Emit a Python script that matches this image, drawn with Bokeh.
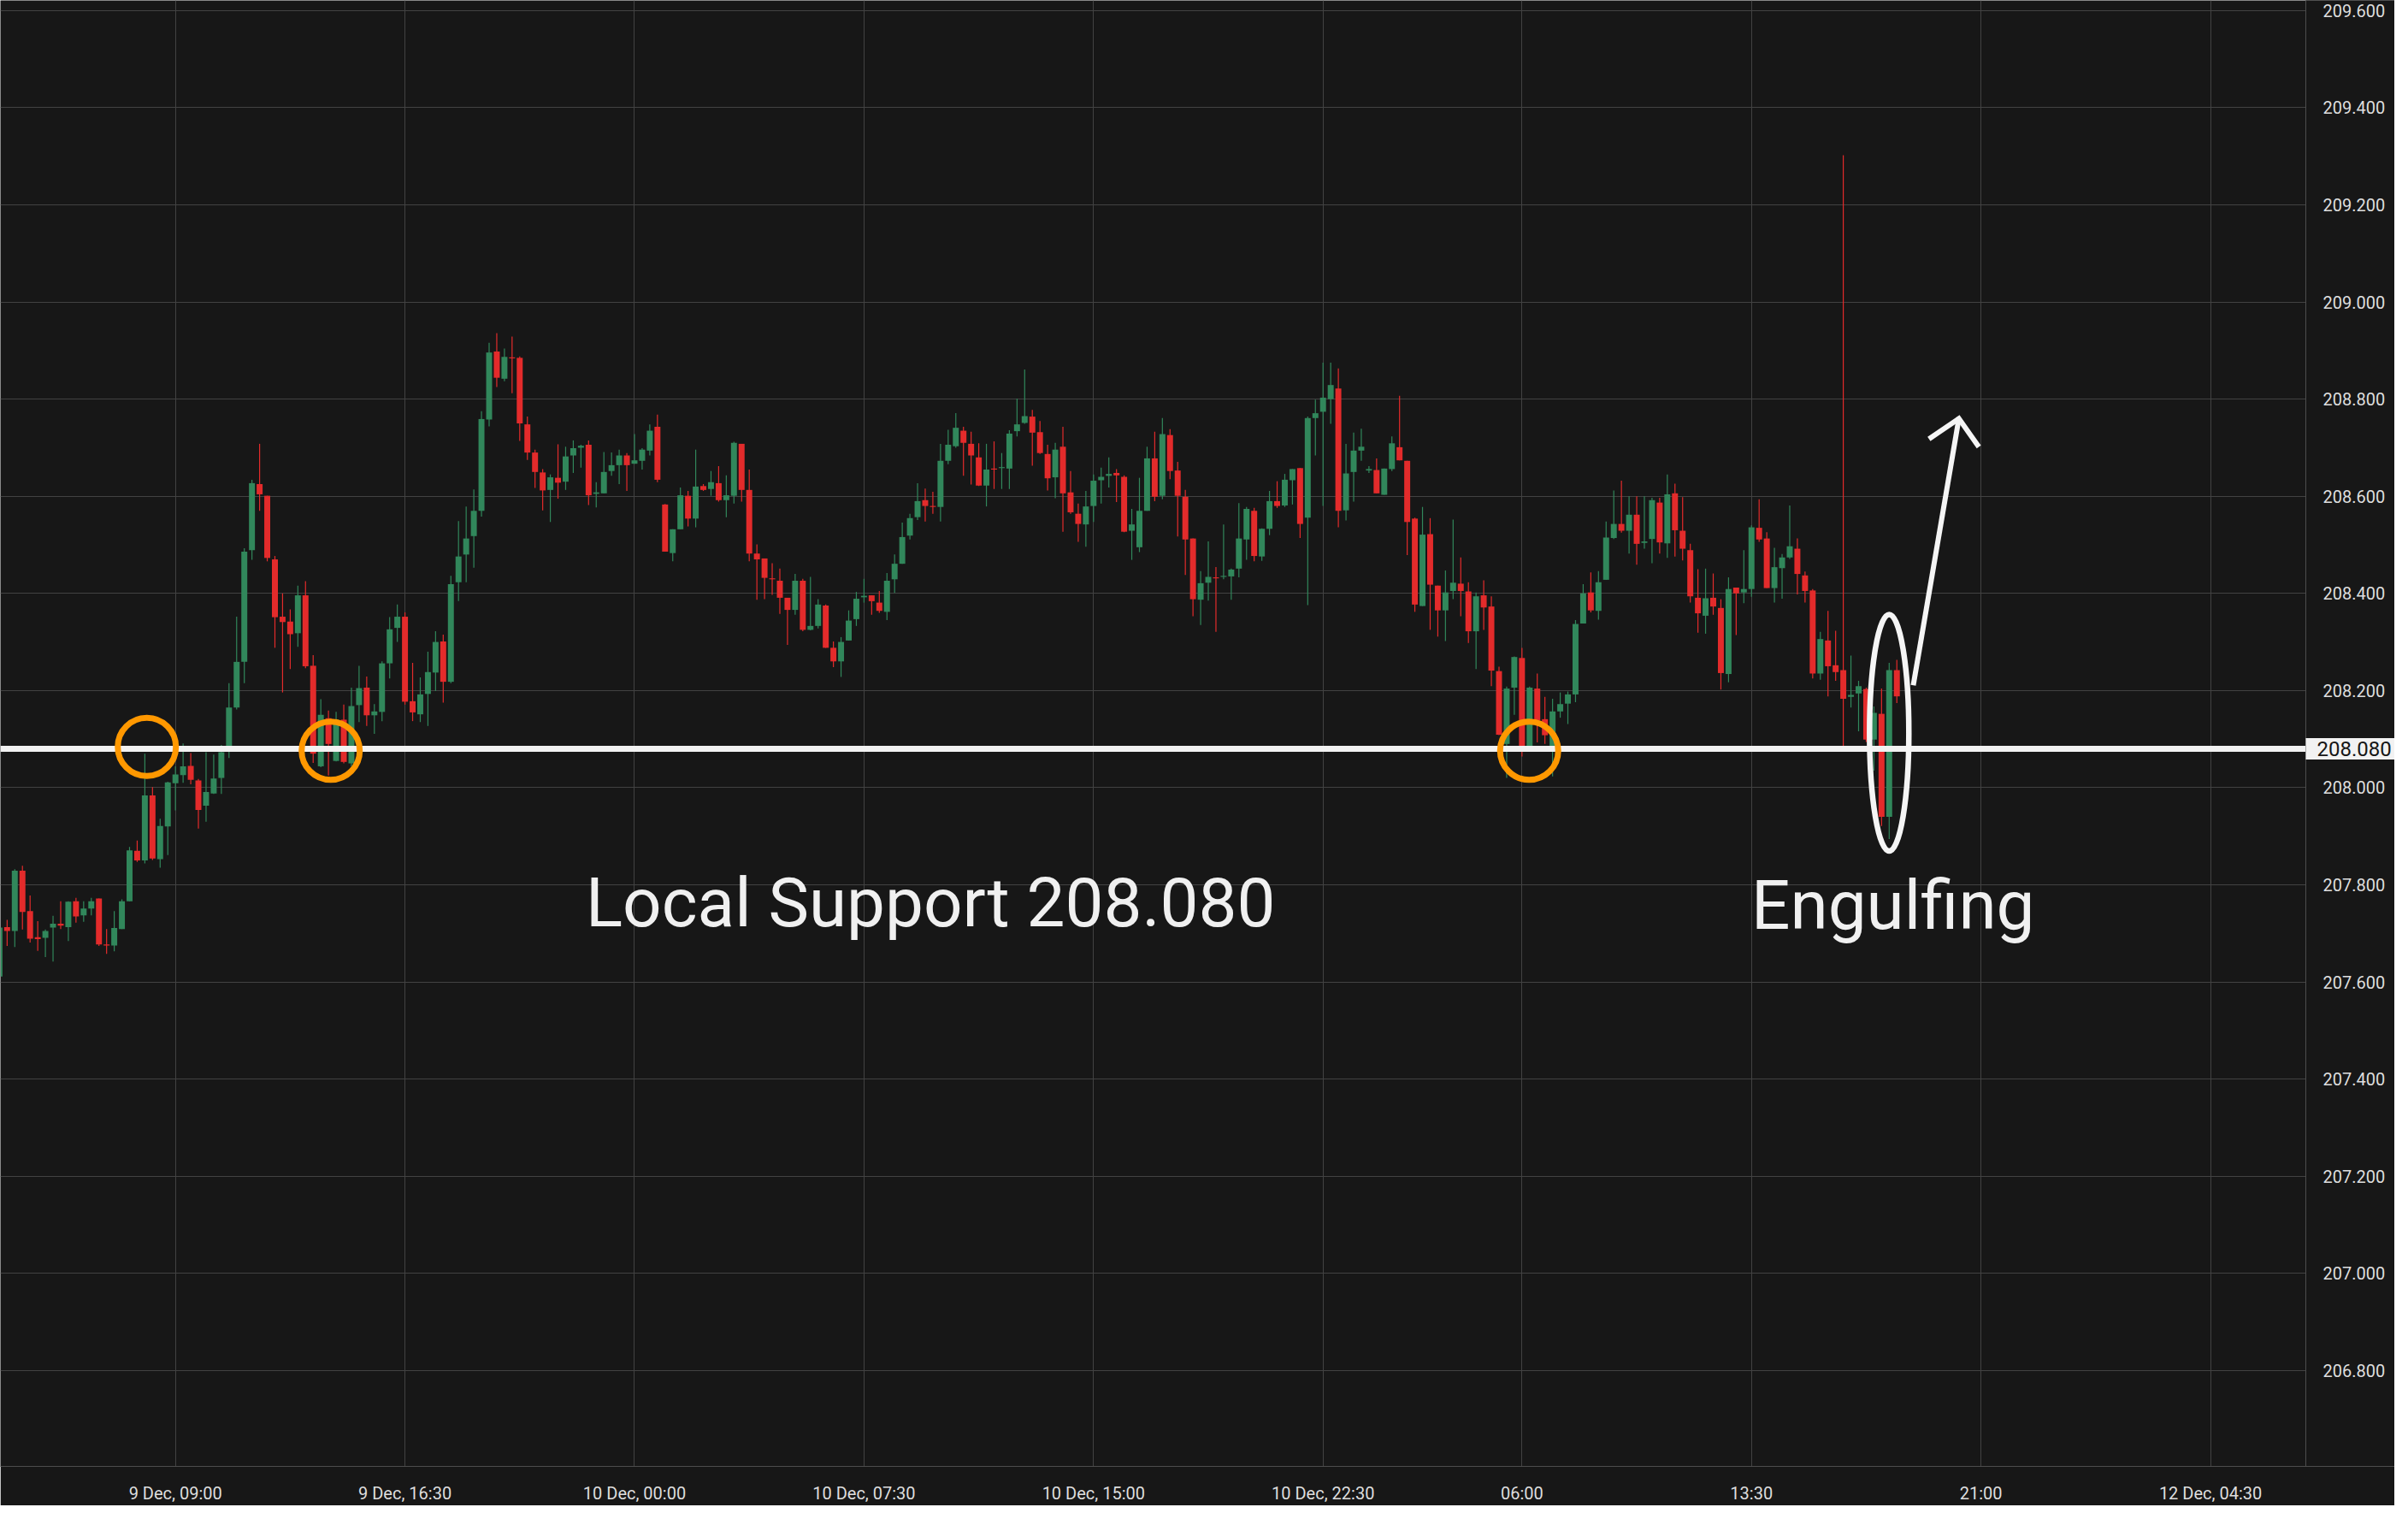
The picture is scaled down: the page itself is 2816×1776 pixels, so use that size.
from bokeh.plotting import figure
from bokeh.models import ColumnDataSource, FixedTicker, PrintfTickFormatter, Label
from bokeh.core.properties import value
from bokeh.embed import file_html
from bokeh.resources import INLINE

# ---------------- data (15-minute candles, bar index 0..248) ----------------
opens = [
    207.611, 207.713, 207.705, 207.829, 207.746, 207.692, 207.691, 207.712, 207.720, 207.713,
    207.766, 207.737, 207.751, 207.772, 207.677, 207.675, 207.709, 207.766, 207.870, 207.850,
    207.984, 207.853, 207.920, 208.009, 208.026, 208.045, 208.015, 207.963, 207.988, 208.020,
    208.076, 208.165, 208.259, 208.489, 208.625, 208.601, 208.470, 208.352, 208.342, 208.318,
    208.396, 208.251, 208.044, 208.143, 208.055, 208.140, 208.050, 208.170, 208.206, 208.149,
    208.156, 208.256, 208.329, 208.352, 208.178, 208.151, 208.193, 208.237, 208.301, 208.218,
    208.423, 208.480, 208.518, 208.570, 208.758, 208.898, 208.842, 208.886, 208.885, 208.748,
    208.690, 208.649, 208.613, 208.638, 208.630, 208.684, 208.700, 208.706, 208.605, 208.606,
    208.652, 208.664, 208.684, 208.667, 208.673, 208.694, 208.743, 208.583, 208.483, 208.532,
    208.601, 208.554, 208.621, 208.615, 208.627, 208.592, 208.601, 208.708, 208.613, 208.482,
    208.472, 208.431, 208.426, 208.391, 208.366, 208.426, 208.325, 208.333, 208.375, 208.288,
    208.260, 208.303, 208.347, 208.392, 208.396, 208.381, 208.362, 208.429, 208.461, 208.519,
    208.557, 208.592, 208.580, 208.578, 208.673, 208.703, 208.735, 208.708, 208.680, 208.622,
    208.657, 208.658, 208.657, 208.734, 208.751, 208.764, 208.732, 208.687, 208.639, 208.702,
    208.608, 208.564, 208.542, 208.580, 208.633, 208.642, 208.648, 208.640, 208.529, 208.495,
    208.570, 208.678, 208.601, 208.726, 208.653, 208.599, 208.513, 208.387, 208.422, 208.433,
    208.434, 208.435, 208.451, 208.511, 208.570, 208.476, 208.533, 208.590, 208.581, 208.633,
    208.658, 208.556, 208.761, 208.774, 208.800, 208.822, 208.571, 208.650, 208.694, 208.653,
    208.654, 208.603, 208.656, 208.701, 208.673, 208.554, 208.374, 208.522, 208.416, 208.365,
    208.405, 208.420, 208.404, 208.322, 208.396, 208.373, 208.240, 208.090, 208.206, 208.267,
    208.081, 208.204, 208.141, 208.081, 208.157, 208.173, 208.192, 208.338, 208.402, 208.364,
    208.428, 208.514, 208.543, 208.529, 208.562, 208.504, 208.512, 208.587, 208.503, 208.606,
    208.529, 208.489, 208.391, 208.354, 208.391, 208.370, 208.234, 208.412, 208.402, 208.409,
    208.535, 208.513, 208.411, 208.452, 208.474, 208.492, 208.437, 208.406, 208.235, 208.303,
    208.252, 208.242, 208.187, 208.194, 208.203, 208.099, 208.152, 207.940, 208.242,
]
highs = [
    207.750, 207.728, 207.832, 207.839, 207.778, 207.725, 207.708, 207.736, 207.766, 207.766,
    207.773, 207.766, 207.773, 207.772, 207.709, 207.746, 207.770, 207.878, 207.891, 208.070,
    208.001, 207.936, 208.012, 208.044, 208.091, 208.071, 208.018, 208.073, 208.068, 208.088,
    208.215, 208.352, 208.493, 208.634, 208.708, 208.601, 208.477, 208.400, 208.367, 208.416,
    208.425, 208.273, 208.182, 208.159, 208.156, 208.171, 208.206, 208.251, 208.229, 208.172,
    208.260, 208.351, 208.377, 208.361, 208.257, 208.227, 208.280, 208.322, 208.315, 208.436,
    208.549, 208.579, 208.614, 208.775, 208.916, 208.936, 208.904, 208.929, 208.888, 208.764,
    208.696, 208.656, 208.645, 208.707, 208.702, 208.715, 208.706, 208.715, 208.629, 208.691,
    208.690, 208.696, 208.689, 208.728, 208.699, 208.748, 208.768, 208.584, 208.532, 208.618,
    208.611, 208.696, 208.625, 208.652, 208.662, 208.643, 208.712, 208.708, 208.655, 208.501,
    208.472, 208.462, 208.451, 208.391, 208.440, 208.430, 208.434, 208.388, 208.377, 208.301,
    208.310, 208.365, 208.403, 208.430, 208.396, 208.405, 208.442, 208.480, 208.546, 208.564,
    208.627, 208.616, 208.609, 208.708, 208.737, 208.771, 208.743, 208.733, 208.709, 208.708,
    208.713, 208.689, 208.736, 208.801, 208.861, 208.778, 208.755, 208.706, 208.710, 208.743,
    208.652, 208.585, 208.611, 208.645, 208.659, 208.680, 208.656, 208.643, 208.574, 208.638,
    208.702, 208.733, 208.761, 208.738, 208.671, 208.613, 208.513, 208.446, 208.507, 208.454,
    208.542, 208.451, 208.586, 208.578, 208.576, 208.534, 208.611, 208.631, 208.646, 208.656,
    208.658, 208.764, 208.799, 208.875, 208.875, 208.863, 208.708, 208.731, 208.739, 208.662,
    208.678, 208.657, 208.723, 208.807, 208.673, 208.556, 208.578, 208.555, 208.416, 208.447,
    208.552, 208.474, 208.423, 208.402, 208.427, 208.394, 208.249, 208.208, 208.270, 208.288,
    208.208, 208.235, 208.187, 208.183, 208.196, 208.198, 208.345, 208.419, 208.443, 208.446,
    208.548, 208.612, 208.632, 208.600, 208.600, 208.600, 208.597, 208.597, 208.645, 208.626,
    208.598, 208.502, 208.450, 208.451, 208.441, 208.388, 208.433, 208.412, 208.489, 208.540,
    208.594, 208.526, 208.494, 208.481, 208.581, 208.513, 208.445, 208.409, 208.321, 208.364,
    208.323, 209.302, 208.272, 208.220, 208.206, 208.167, 208.204, 208.257, 208.263,
]
lows = [
    207.582, 207.674, 207.672, 207.708, 207.681, 207.664, 207.651, 207.642, 207.709, 207.684,
    207.722, 207.724, 207.737, 207.674, 207.658, 207.663, 207.709, 207.766, 207.847, 207.844,
    207.851, 207.835, 207.861, 207.953, 208.010, 208.007, 207.916, 207.930, 207.987, 207.987,
    208.061, 208.161, 208.215, 208.469, 208.570, 208.466, 208.288, 208.196, 208.244, 208.290,
    208.246, 208.051, 208.042, 208.025, 208.054, 208.050, 208.044, 208.135, 208.127, 208.111,
    208.137, 208.225, 208.300, 208.171, 208.137, 208.135, 208.127, 208.199, 208.175, 208.215,
    208.384, 208.423, 208.453, 208.558, 208.744, 208.825, 208.837, 208.812, 208.714, 208.675,
    208.617, 208.571, 208.547, 208.595, 208.613, 208.648, 208.659, 208.582, 208.577, 208.606,
    208.642, 208.625, 208.611, 208.667, 208.655, 208.684, 208.629, 208.486, 208.466, 208.532,
    208.538, 208.536, 208.611, 208.601, 208.589, 208.557, 208.585, 208.589, 208.466, 208.387,
    208.388, 208.397, 208.358, 208.294, 208.356, 208.322, 208.324, 208.328, 208.288, 208.248,
    208.228, 208.303, 208.333, 208.381, 208.356, 208.360, 208.345, 208.401, 208.461, 208.511,
    208.551, 208.548, 208.564, 208.548, 208.666, 208.700, 208.642, 208.624, 208.621, 208.579,
    208.615, 208.615, 208.615, 208.723, 208.749, 208.663, 208.687, 208.612, 208.596, 208.527,
    208.564, 208.506, 208.496, 208.547, 208.585, 208.618, 208.588, 208.526, 208.469, 208.485,
    208.570, 208.590, 208.594, 208.635, 208.517, 208.438, 208.353, 208.335, 208.385, 208.321,
    208.429, 208.387, 208.433, 208.469, 208.466, 208.467, 208.520, 208.576, 208.578, 208.583,
    208.514, 208.376, 208.684, 208.580, 208.749, 208.536, 208.550, 208.589, 208.673, 208.648,
    208.606, 208.603, 208.652, 208.674, 208.479, 208.362, 208.374, 208.325, 208.311, 208.302,
    208.388, 208.353, 208.298, 208.244, 208.325, 208.209, 208.108, 208.020, 208.150, 208.064,
    208.075, 208.093, 208.090, 208.023, 208.144, 208.131, 208.176, 208.338, 208.361, 208.346,
    208.428, 208.512, 208.525, 208.482, 208.459, 208.492, 208.462, 208.482, 208.473, 208.476,
    208.468, 208.381, 208.319, 208.317, 208.356, 208.202, 208.217, 208.314, 208.380, 208.393,
    208.506, 208.411, 208.381, 208.389, 208.471, 208.398, 208.381, 208.225, 208.222, 208.188,
    208.220, 208.086, 208.165, 208.116, 208.094, 208.035, 207.921, 207.894, 208.174,
]
closes = [
    207.712, 207.705, 207.829, 207.744, 207.689, 207.688, 207.705, 207.720, 207.716, 207.765,
    207.735, 207.751, 207.766, 207.677, 207.675, 207.711, 207.766, 207.871, 207.850, 207.984,
    207.854, 207.921, 208.011, 208.027, 208.044, 208.016, 207.954, 207.991, 208.019, 208.073,
    208.165, 208.259, 208.486, 208.627, 208.604, 208.473, 208.351, 208.341, 208.316, 208.396,
    208.250, 208.070, 208.150, 208.090, 208.140, 208.053, 208.168, 208.205, 208.149, 208.157,
    208.256, 208.326, 208.352, 208.177, 208.155, 208.192, 208.238, 208.300, 208.218, 208.419,
    208.476, 208.513, 208.570, 208.759, 208.896, 208.844, 208.887, 208.884, 208.750, 208.690,
    208.650, 208.612, 208.639, 208.628, 208.682, 208.699, 208.704, 208.602, 208.608, 208.650,
    208.664, 208.684, 208.664, 208.674, 208.696, 208.735, 208.634, 208.486, 208.532, 208.602,
    208.554, 208.620, 208.613, 208.629, 208.592, 208.602, 208.710, 208.613, 208.482, 208.470,
    208.432, 208.429, 208.391, 208.366, 208.426, 208.325, 208.333, 208.377, 208.288, 208.260,
    208.300, 208.344, 208.389, 208.395, 208.384, 208.364, 208.426, 208.461, 208.516, 208.555,
    208.590, 208.580, 208.578, 208.673, 208.706, 208.741, 208.710, 208.684, 208.622, 208.655,
    208.655, 208.660, 208.729, 208.748, 208.765, 208.731, 208.689, 208.637, 208.696, 208.606,
    208.567, 208.543, 208.579, 208.632, 208.640, 208.646, 208.643, 208.527, 208.542, 208.570,
    208.678, 208.599, 208.728, 208.652, 208.601, 208.511, 208.388, 208.421, 208.434, 208.431,
    208.436, 208.449, 208.513, 208.574, 208.477, 208.533, 208.590, 208.580, 208.634, 208.656,
    208.543, 208.761, 208.771, 208.803, 208.829, 208.570, 208.647, 208.694, 208.702, 208.656,
    208.606, 208.657, 208.709, 208.674, 208.547, 208.377, 208.521, 208.418, 208.365, 208.402,
    208.422, 208.405, 208.322, 208.394, 208.371, 208.241, 208.109, 208.204, 208.269, 208.081,
    208.206, 208.138, 208.108, 208.157, 208.172, 208.192, 208.337, 208.400, 208.365, 208.423,
    208.515, 208.543, 208.529, 208.562, 208.502, 208.507, 208.592, 208.505, 208.604, 208.530,
    208.492, 208.394, 208.359, 208.390, 208.373, 208.236, 208.409, 208.400, 208.409, 208.536,
    208.511, 208.411, 208.454, 208.474, 208.497, 208.440, 208.405, 208.235, 208.306, 208.250,
    208.238, 208.183, 208.191, 208.209, 208.099, 208.154, 207.940, 208.242, 208.188,
]
bar_index = list(range(len(opens)))

# time axis: bar index of each labelled bar and its label
x_tick_positions = [23, 53, 83, 113, 143, 173, 199, 229, 259, 289]
x_tick_labels = ["9 Dec, 09:00", "9 Dec, 16:30", "10 Dec, 00:00", "10 Dec, 07:30",
                 "10 Dec, 15:00", "10 Dec, 22:30", "06:00", "13:30", "21:00", "12 Dec, 04:30"]
y_tick_values = [206.8, 207.0, 207.2, 207.4, 207.6, 207.8, 208.0, 208.2, 208.4,
                 208.6, 208.8, 209.0, 209.2, 209.4, 209.6]

# annotations
support_level = 208.080
support_text = "Local Support 208.080"
pattern_text = "Engulfing"
touch_x = [19.26, 43.29, 199.94]
touch_y = [208.084, 208.076, 208.076]
engulf_x = [247.0]
engulf_y = [208.113]
arrow_shaft_x = [250.15, 256.11]
arrow_shaft_y = [208.2107, 208.760]
arrow_head_x = [252.2, 256.11, 258.72]
arrow_head_y = [208.718, 208.760, 208.7015]

# ---------------- layout / styling ----------------
BG = "#171717"
GRID = "#424242"
AXIS = "#4d4d4d"
GREEN = "#31875b"
RED = "#e32b2b"
TEXT = "#dedede"
X_START, X_END = 0.123, 313.08          # bar-index span of the canvas width
PRICE_AXIS_AT = 301.45                   # bar-index where the price scale begins
Y_START, Y_END = 206.6025, 209.6209

p = figure(width=2800, height=1760,
           x_range=(X_START, X_END), y_range=(Y_START, Y_END),
           output_backend="svg", toolbar_location=None, y_axis_location="right",
           min_border_left=0, min_border_top=0, min_border_right=0, min_border_bottom=44,
           background_fill_color=BG, border_fill_color=BG, outline_line_color=None)

xa = p.xaxis[0]
xa.ticker = FixedTicker(ticks=x_tick_positions)
xa.major_label_overrides = {t: s for t, s in zip(x_tick_positions, x_tick_labels)}
ya = p.yaxis[0]
ya.ticker = FixedTicker(ticks=y_tick_values)
ya.formatter = PrintfTickFormatter(format="%.3f")
ya.fixed_location = PRICE_AXIS_AT
for ax in (xa, ya):
    ax.axis_line_color = AXIS
    ax.axis_line_width = 1
    ax.major_tick_line_color = None
    ax.minor_tick_line_color = None
    ax.major_tick_out = 0
    ax.major_tick_in = 0
    ax.major_label_text_color = TEXT
    ax.major_label_text_font = "Roboto"
    ax.major_label_text_font_size = "20px"
    ax.major_label_standoff = 20
xa.major_label_standoff = 19

p.xgrid[0].ticker = FixedTicker(ticks=x_tick_positions)
p.ygrid[0].ticker = FixedTicker(ticks=y_tick_values)
for g in (p.xgrid[0], p.ygrid[0]):
    g.grid_line_color = GRID
    g.grid_line_width = 1

# candles
tops, bottoms, colors = [], [], []
for o, c in zip(opens, closes):
    t, b = max(o, c), min(o, c)
    if t - b < 0.0018:
        mid = (t + b) / 2
        t, b = mid + 0.0009, mid - 0.0009
    tops.append(t)
    bottoms.append(b)
    colors.append(GREEN if c >= o else RED)

src = ColumnDataSource(dict(x=bar_index, high=highs, low=lows, top=tops, bottom=bottoms, color=colors))
p.segment(x0="x", y0="low", x1="x", y1="high", line_color="color", line_width=1.2, source=src)
p.vbar(x="x", width=0.78, top="top", bottom="bottom", fill_color="color", line_color=None, source=src)

# support line
p.hspan(y=[support_level], line_color="#f2f2f2", line_width=7)

# price-scale column background (hides grid and support line behind the price labels)
p.quad(left=[PRICE_AXIS_AT], right=[X_END + 5], bottom=[Y_START - 1], top=[Y_END + 1],
       fill_color=BG, line_color=None)

# touches of support
p.scatter(x=touch_x, y=touch_y, marker="circle", size=68, fill_color=None,
          line_color="#ff9800", line_width=7)

# engulfing ellipse + arrow
p.ellipse(x=engulf_x, y=engulf_y, width=5.14, height=0.487, fill_color=None,
          line_color="#f5f5f5", line_width=6.5)
p.line(arrow_shaft_x, arrow_shaft_y, line_color="#f5f5f5", line_width=6)
p.line(arrow_head_x, arrow_head_y, line_color="#f5f5f5", line_width=6, line_join="miter")

# captions
p.text(x=[121.7], y=[207.762], text=[support_text], text_font=value("Roboto"),
       text_font_size="80px", text_align="center", text_baseline="middle", text_color="#f0f0f0")
p.text(x=[247.5], y=[207.756], text=[pattern_text], text_font=value("Roboto"),
       text_font_size="80px", text_align="center", text_baseline="middle", text_color="#f0f0f0")

# price label on the axis
lab = Label(x=PRICE_AXIS_AT, y=support_level, x_offset=0, text=f"{support_level:.3f}",
            text_align="left", text_baseline="middle", text_font="Roboto",
            text_font_size="24px", text_color="#161616", background_fill_color="#f2f2f2",
            padding=dict(left=13, right=30, top=4, bottom=4))
p.add_layout(lab)

open("out.html", "w").write(file_html(p, INLINE))
